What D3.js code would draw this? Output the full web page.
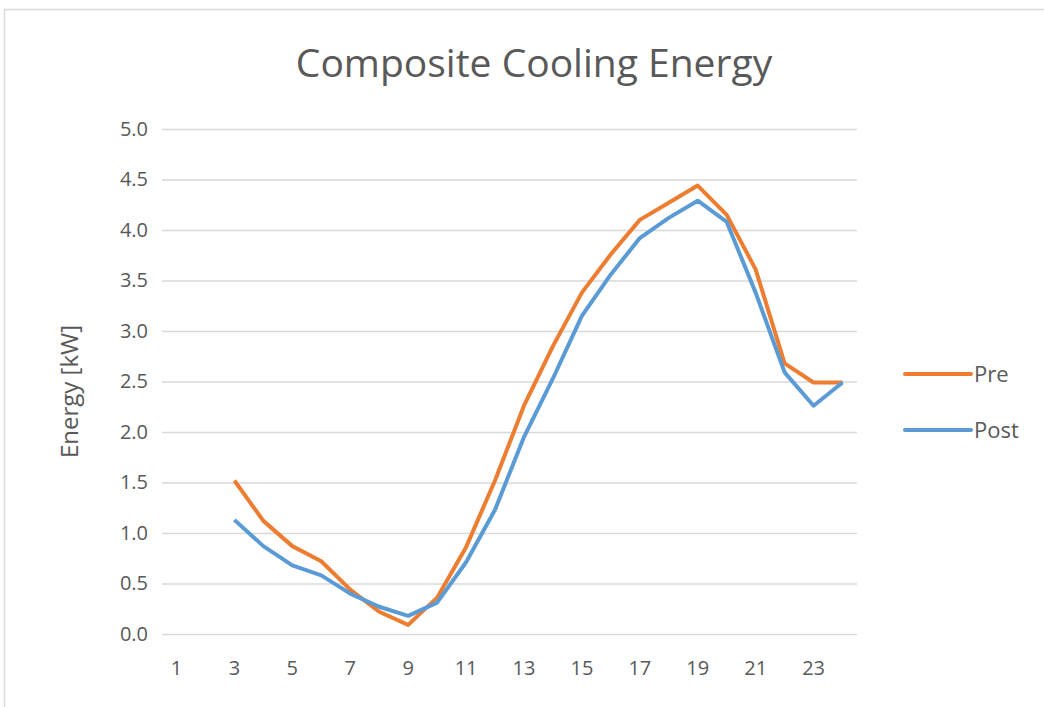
<!DOCTYPE html>
<html>
<head>
  <meta charset="utf-8">
  <title>Composite Cooling Energy</title>
  <script src="https://d3js.org/d3.v7.min.js"></script>
  <style>
    body { margin: 0; background: #fff; }
    text { font-family: "Open Sans", sans-serif; fill: #595959; }
  </style>
</head>
<body>
<svg class="svgchart"></svg>

<script>

var hours = d3.range(1, 25);
var xTicks = [1, 3, 5, 7, 9, 11, 13, 15, 17, 19, 21, 23];
var yTicks = [0, 0.5, 1, 1.5, 2, 2.5, 3, 3.5, 4, 4.5, 5];

// hour 1 and 2 have no values
var pre = [null, null, 1.52, 1.12, 0.87, 0.72, 0.44, 0.22, 0.09, 0.36, 0.86, 1.52,
           2.26, 2.85, 3.38, 3.76, 4.10, 4.27, 4.44, 4.15, 3.61, 2.68, 2.49, 2.49];
var post = [null, null, 1.13, 0.87, 0.68, 0.58, 0.40, 0.27, 0.18, 0.31, 0.71, 1.23,
            1.95, 2.53, 3.15, 3.56, 3.92, 4.12, 4.29, 4.08, 3.38, 2.59, 2.26, 2.49];

var seriesNames = ["Pre", "Post"];
var colors = ["#ED7D31", "#5B9BD5"];

var margin = {top: 129, right: 187, bottom: 72, left: 162},
    W = 1044, H = 707,
    width = W - margin.left - margin.right,
    height = H - margin.top - margin.bottom - 1;

var svg = d3.select(".svgchart")
    .attr("width", W)
    .attr("height", H);

// chart frame
svg.append("path")
    .attr("d", "M4.5," + H + "V9.5H" + W)
    .attr("fill", "none")
    .attr("stroke", "#d9d9d9")
    .attr("stroke-width", 1.5);

svg.append("text")
    .attr("x", 534)
    .attr("y", 77)
    .attr("text-anchor", "middle")
    .style("font-size", "39px")
    .text("Composite Cooling Energy");

var chart = svg.append("g")
    .attr("transform", "translate(" + margin.left + "," + margin.top + ")");

var x = d3.scaleBand()
    .domain(hours)
    .range([0, width]);

var y = d3.scaleLinear()
    .domain([0, 5])
    .range([height, 0]);

// gridlines
chart.append("g")
    .attr("class", "grid")
    .call(d3.axisLeft(y).tickValues(yTicks).tickSize(-width).tickFormat(""))
    .call(function(g) { g.select(".domain").remove(); })
    .selectAll("line")
      .attr("stroke", "#d9d9d9")
      .attr("stroke-width", 1.5);

chart.append("g")
    .attr("class", "y axis")
    .call(d3.axisLeft(y).tickValues(yTicks).tickSize(0).tickPadding(14).tickFormat(d3.format(".1f")))
    .call(function(g) { g.select(".domain").remove(); })
    .selectAll("text")
      .style("font-size", "20px");

chart.append("g")
    .attr("class", "x axis")
    .attr("transform", "translate(0," + height + ")")
    .call(d3.axisBottom(x).tickValues(xTicks).tickSize(0).tickPadding(27))
    .call(function(g) { g.select(".domain").remove(); })
    .selectAll("text")
      .style("font-size", "20px");

chart.append("text")
    .attr("transform", "rotate(-90)")
    .attr("x", -(height / 2 + 10))
    .attr("y", -84)
    .attr("text-anchor", "middle")
    .style("font-size", "24px")
    .text("Energy [kW]");

var line = d3.line()
    .defined(function(d) { return d.v != null; })
    .x(function(d) { return x(d.h) + x.bandwidth() / 2; })
    .y(function(d) { return y(d.v); });

[pre, post].forEach(function(vals, i) {
  var pts = hours.map(function(h, j) { return {h: h, v: vals[j]}; });
  chart.append("path")
      .datum(pts)
      .attr("fill", "none")
      .attr("stroke", colors[i])
      .attr("stroke-width", 4)
      .attr("stroke-linejoin", "round")
      .attr("d", line);
});

// legend
var legend = svg.append("g")
    .attr("transform", "translate(905,374)");

seriesNames.forEach(function(name, i) {
  var g = legend.append("g").attr("transform", "translate(0," + (i * 56) + ")");
  g.append("line")
      .attr("x1", 0).attr("x2", 66)
      .attr("stroke", colors[i])
      .attr("stroke-width", 4)
      .attr("stroke-linecap", "round");
  g.append("text")
      .attr("x", 69)
      .attr("dy", "0.35em")
      .style("font-size", "22px")
      .text(name);
});

</script>
</body>
</html>
